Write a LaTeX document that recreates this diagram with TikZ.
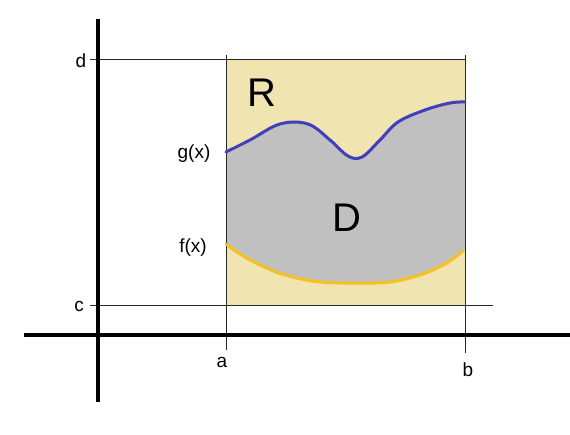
\documentclass[tikz,border=0pt]{standalone}
\usepackage{fontspec}
\setmainfont{Liberation Sans}
\definecolor{tanR}{RGB}{240,228,176}
\definecolor{grayD}{RGB}{192,192,192}
\definecolor{gblue}{RGB}{64,64,190}
\definecolor{fyellow}{RGB}{245,192,32}
\definecolor{thinline}{RGB}{40,40,40}
\tikzset{
  thin line/.style={draw=thinline, line width=1pt},
  axis line/.style={draw=black, line width=3.5pt},
  small label/.style={font=\fontsize{19}{22}\selectfont, inner sep=0pt},
  big label/.style={font=\fontsize{40}{44}\selectfont, inner sep=0pt},
  curve line/.style={line width=3pt, line cap=round, line join=round}
}
\begin{document}
\begin{tikzpicture}[x=1pt, y=-1pt]
\useasboundingbox[fill=white] (0,0) rectangle (570,435);
% rectangle R
\fill[tanR] (226,60) rectangle (465,306);
% region D
\fill[grayD] plot[smooth, tension=0.6] coordinates {(226,152) (250,140) (280,124) (308,124) (330,140) (348,156) (362,157) (380,140) (398,122) (425,110) (450,103) (465,102)}
  -- (465,251)
  -- plot[smooth, tension=0.6] coordinates {(463,251) (445,264) (420,275) (390,282) (360,283) (320,282) (285,275) (260,265) (240,254) (226,244)}
  -- cycle;
% named end points
\coordinate (d0) at (90,60);   \coordinate (d1) at (465,60);
\coordinate (c0) at (90,306);  \coordinate (c1) at (493,306);
\coordinate (a0) at (226,55);  \coordinate (a1) at (226,350);
\coordinate (b0) at (465,55);  \coordinate (b1) at (465,353);
\coordinate (xa0) at (24,335); \coordinate (xa1) at (570,335);
\coordinate (ya0) at (98,19);  \coordinate (ya1) at (98,402);
% thin lines
\draw[thin line] (d0) -- (d1);
\draw[thin line] (c0) -- (c1);
\draw[thin line] (a0) -- (a1);
\draw[thin line] (b0) -- (b1);
% axes
\draw[axis line] (xa0) -- (xa1);
\draw[axis line] (ya0) -- (ya1);
% curves
\draw[curve line, gblue] plot[smooth, tension=0.6] coordinates {(226,152) (250,140) (280,124) (308,124) (330,140) (348,156) (362,157) (380,140) (398,122) (425,110) (450,103) (465,102)};
\draw[curve line, fyellow] plot[smooth, tension=0.6] coordinates {(226,244) (240,254) (260,265) (285,275) (320,282) (360,283) (390,282) (420,275) (445,264) (463,251)};
% labels
\node[small label] (ld) at (81,61) {d};
\node[small label] (lc) at (79,306) {c};
\node[small label] (la) at (222,362) {a};
\node[small label] (lb) at (468,370) {b};
\node[small label] (lg) at (194,154) {g(x)};
\node[small label] (lf) at (193,248) {f(x)};
\node[big label] (lR) at (262,93) {R};
\node[big label] (lD) at (347,218) {D};
\end{tikzpicture}
\end{document}
